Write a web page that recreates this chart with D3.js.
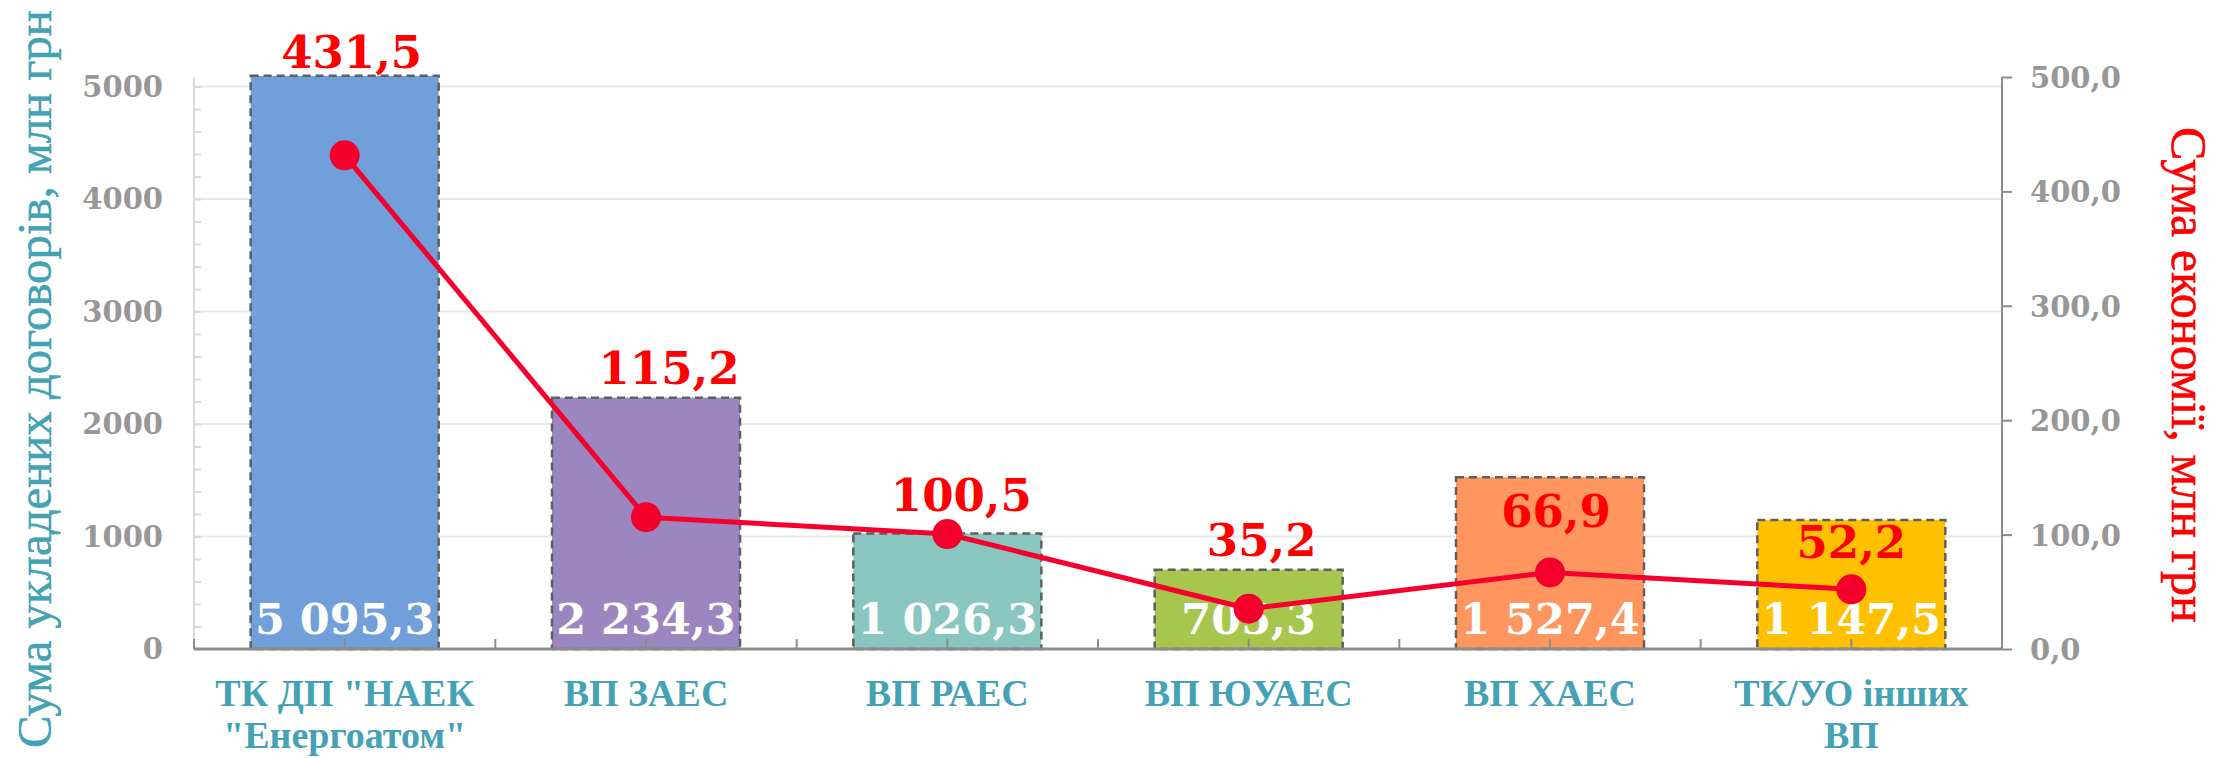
<!DOCTYPE html>
<html>
<head>
<meta charset="utf-8">
<script src="https://cdn.jsdelivr.net/npm/d3@7"></script>
<style>
  html, body { margin: 0; padding: 0; background: #fff; }
  svg { display: block; }
</style>
</head>
<body>
<div id="chart"></div>
<script>
// ---- data ----
const categories = ['ТК ДП "НАЕК\n"Енергоатом"', 'ВП ЗАЕС', 'ВП РАЕС', 'ВП ЮУАЕС', 'ВП ХАЕС', 'ТК/УО інших\nВП'];
const contractSums = [5095.3, 2234.3, 1026.3, 705.3, 1527.4, 1147.5];   // млн грн, bars
const savings = [431.5, 115.2, 100.5, 35.2, 66.9, 52.2];                // млн грн, line
const leftTicks = [0, 1000, 2000, 3000, 4000, 5000];
const rightTicks = [0, 100, 200, 300, 400, 500];
const leftTitle = "Сума укладених договорів, млн грн";
const rightTitle = "Сума економії, млн грн";

// ---- styling ----
const barColors = ["#709fd9", "#9c86c0", "#88c6bf", "#a7c64d", "#ff9660", "#ffc000"];
// label nudges (px) relative to the line markers, as placed in the original
const savingLabelDx = [7, 23, 14, 13, 6, 0];
const savingLabelDy = [-104, -149, -39, -69, -62, -47];

const W = 2221, H = 758;
const plotLeft = 194, plotRight = 2002, plotTop = 77, plotBottom = 649;
const teal = "#45a2b4", red = "#ff0000", lineRed = "#f5002d", grey = "#979797";
const numFont = "'DejaVu Serif', serif";
const catFont = "'Liberation Serif', serif";

const uk = d3.formatLocale({ decimal: ",", thousands: " ", grouping: [3], currency: ["", ""] });
const fmtVal = uk.format(",.1f");
const fmtRight = uk.format(".1f");

const svg = d3.select("#chart").append("svg")
    .attr("width", W)
    .attr("height", H)
    .attr("viewBox", `0 0 ${W} ${H}`);

const x = d3.scaleBand()
    .domain(d3.range(categories.length))
    .range([plotLeft, plotRight])
    .paddingInner(0.376)
    .paddingOuter(0.188);

const yLeft = d3.scaleLinear().domain([0, 5085]).range([plotBottom, plotTop]);
const yRight = d3.scaleLinear().domain([0, 500]).range([plotBottom, plotTop]);

// gridlines
svg.append("g")
    .selectAll("line")
    .data(leftTicks.filter(d => d > 0))
    .join("line")
    .attr("x1", plotLeft).attr("x2", plotRight)
    .attr("y1", d => yLeft(d)).attr("y2", d => yLeft(d))
    .attr("stroke", "#e8e8e8")
    .attr("stroke-width", 2);

// left axis: light line, minor ticks inward
const gLeft = svg.append("g").attr("transform", `translate(${plotLeft},0)`);
gLeft.call(d3.axisRight(yLeft).tickValues(d3.range(0, 5001, 200)).tickSize(7).tickFormat(""));
gLeft.select(".domain").attr("stroke", "#d9d9d9").attr("stroke-width", 2).attr("d", `M0,${plotTop}V${plotBottom}`);
gLeft.selectAll(".tick line").attr("stroke", "#d9d9d9").attr("stroke-width", 2);

svg.append("g")
    .selectAll("text")
    .data(leftTicks)
    .join("text")
    .attr("x", plotLeft - 31)
    .attr("y", d => yLeft(d))
    .attr("dy", "0.36em")
    .attr("text-anchor", "end")
    .attr("font-family", numFont)
    .attr("font-weight", "bold")
    .attr("font-size", 29)
    .attr("fill", grey)
    .text(d => d);

// right axis
const gRight = svg.append("g").attr("transform", `translate(${plotRight},0)`);
gRight.call(d3.axisRight(yRight).tickValues(rightTicks).tickSize(10).tickFormat(fmtRight));
gRight.select(".domain").attr("stroke", "#8c8c8c").attr("stroke-width", 2).attr("d", `M0,${plotTop}V${plotBottom}`);
gRight.selectAll(".tick line").attr("stroke", "#8c8c8c").attr("stroke-width", 2);
gRight.selectAll(".tick text")
    .attr("x", 28)
    .attr("dy", "0.36em")
    .attr("font-family", numFont)
    .attr("font-weight", "bold")
    .attr("font-size", 29)
    .attr("fill", grey);

// bars
svg.append("g")
    .selectAll("rect")
    .data(contractSums)
    .join("rect")
    .attr("x", (d, i) => x(i))
    .attr("y", d => yLeft(d))
    .attr("width", x.bandwidth())
    .attr("height", d => plotBottom - yLeft(d))
    .attr("fill", (d, i) => barColors[i])
    .attr("stroke", "#5f5f5f")
    .attr("stroke-width", 2.5)
    .attr("stroke-dasharray", "8,5");

// bottom axis line with ticks at band edges and centres
const halfTicks = d3.range(0, categories.length * 2 + 1).map(k => plotLeft + k * x.step() / 2);
svg.append("line")
    .attr("x1", plotLeft).attr("x2", plotRight)
    .attr("y1", plotBottom).attr("y2", plotBottom)
    .attr("stroke", "#8c8c8c")
    .attr("stroke-width", 3);
svg.append("g")
    .selectAll("line")
    .data(halfTicks)
    .join("line")
    .attr("x1", d => d).attr("x2", d => d)
    .attr("y1", plotBottom).attr("y2", plotBottom - 10)
    .attr("stroke", "#8c8c8c")
    .attr("stroke-width", 2);

// bar value labels
svg.append("g")
    .selectAll("text")
    .data(contractSums)
    .join("text")
    .attr("x", (d, i) => x(i) + x.bandwidth() / 2)
    .attr("y", plotBottom - 15)
    .attr("text-anchor", "middle")
    .attr("font-family", numFont)
    .attr("font-weight", "bold")
    .attr("font-size", 43)
    .attr("fill", "#fff")
    .text(d => fmtVal(d));

// savings line
const cx = i => x(i) + x.bandwidth() / 2;
svg.append("path")
    .datum(savings)
    .attr("fill", "none")
    .attr("stroke", lineRed)
    .attr("stroke-width", 5)
    .attr("stroke-linejoin", "round")
    .attr("d", d3.line().x((d, i) => cx(i)).y(d => yRight(d)));

svg.append("g")
    .selectAll("circle")
    .data(savings)
    .join("circle")
    .attr("cx", (d, i) => cx(i))
    .attr("cy", d => yRight(d))
    .attr("r", 15)
    .attr("fill", lineRed);

svg.append("g")
    .selectAll("text")
    .data(savings)
    .join("text")
    .attr("x", (d, i) => cx(i) + savingLabelDx[i])
    .attr("y", (d, i) => yRight(d) + savingLabelDy[i])
    .attr("dy", "0.36em")
    .attr("text-anchor", "middle")
    .attr("font-family", numFont)
    .attr("font-weight", "bold")
    .attr("font-size", 45)
    .attr("fill", red)
    .text(d => fmtVal(d));

// category labels
const catText = svg.append("g")
    .selectAll("text")
    .data(categories)
    .join("text")
    .attr("text-anchor", "middle")
    .attr("font-family", catFont)
    .attr("font-weight", "bold")
    .attr("font-size", 38)
    .attr("fill", teal);
catText.selectAll("tspan")
    .data((d, i) => d.split("\n").map(s => ({ s, i })))
    .join("tspan")
    .attr("x", d => cx(d.i))
    .attr("y", (d, k) => 706 + k * 42)
    .text(d => d.s);

// axis titles, sized to the span they cover in the original
function fitTitle(sel, target) {
    const len = sel.node().getComputedTextLength();
    sel.attr("font-size", 46 * target / len);
}

const lt = svg.append("text")
    .attr("transform", "translate(51,379) rotate(-90)")
    .attr("text-anchor", "middle")
    .attr("font-family", catFont)
    .attr("font-size", 46)
    .attr("fill", teal)
    .attr("stroke", teal)
    .attr("stroke-width", 0.6)
    .text(leftTitle);
fitTitle(lt, 738);

const rt = svg.append("text")
    .attr("transform", "translate(2172,375) rotate(90)")
    .attr("text-anchor", "middle")
    .attr("font-family", catFont)
    .attr("font-size", 46)
    .attr("fill", red)
    .attr("stroke", red)
    .attr("stroke-width", 0.6)
    .text(rightTitle);
fitTitle(rt, 496);
</script>
</body>
</html>
